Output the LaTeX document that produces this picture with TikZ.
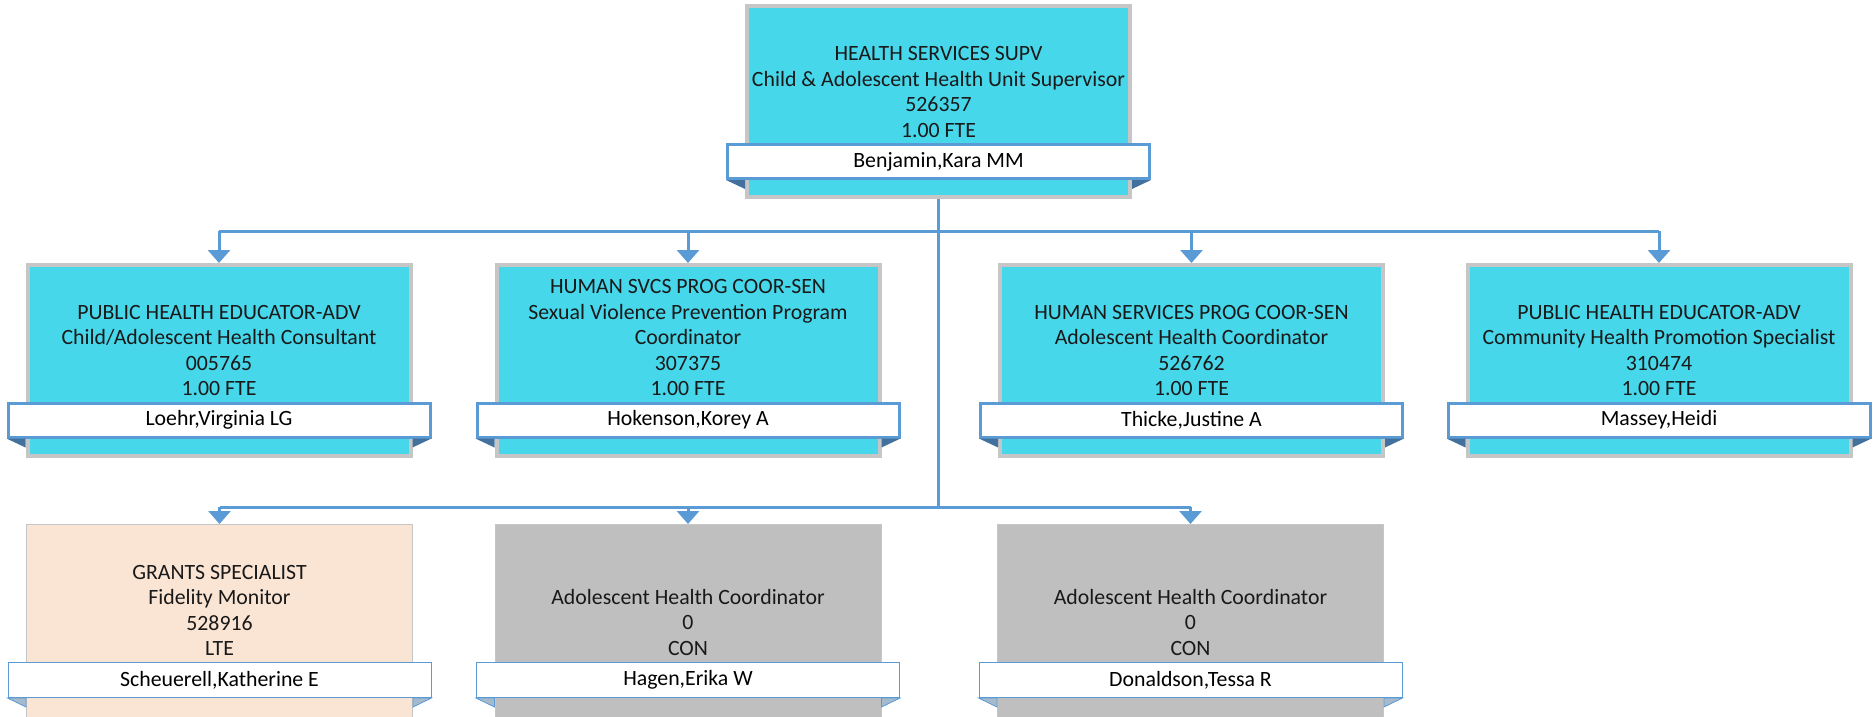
\documentclass[tikz,border=0pt]{standalone}
\usepackage{fontspec}
\setmainfont{Carlito}
\usetikzlibrary{arrows.meta,positioning}
\definecolor{posblue}{HTML}{47D7EB}
\definecolor{ltepeach}{HTML}{FAE5D5}
\definecolor{congray}{HTML}{BFBFBF}
\definecolor{rimgray}{HTML}{C6C6C6}
\definecolor{lineblue}{HTML}{5B9BD5}
\definecolor{folddark}{HTML}{41719C}
\definecolor{foldlite}{HTML}{A5BACD}

\begin{document}
\begin{tikzpicture}[x=.5pt,y=-.5pt,>={Triangle[length=6.5pt,width=11pt]},
  font=\fontsize{10.9}{12.75}\selectfont,
  postbox/.style={rectangle,inner sep=0,fill=posblue,draw=rimgray,line width=2pt,minimum width=191.5pt,minimum height=95.5pt},
  ltebox/.style={rectangle,inner sep=0,fill=ltepeach,draw=rimgray,line width=.5pt,minimum width=193pt,minimum height=97pt},
  conbox/.style={ltebox,fill=congray},
  band/.style={rectangle,inner sep=0,fill=white,draw=lineblue,line width=1.5pt,minimum width=211pt,minimum height=17pt},
  thinband/.style={band,line width=.5pt,minimum width=211.5pt,minimum height=17.5pt},
  ttl/.style={align=center,inner sep=0,text=black!90},
  conn/.style={draw=lineblue,line width=1.5pt}]
\useasboundingbox (0,0) rectangle (1874,717);

% supervisor
\node[postbox] (sup) at (938.5,101.5) {};
\node[band] (supN) at (938.5,161.5) {Benjamin,Kara MM};
\node[ttl,above=2.5pt of supN] {HEALTH SERVICES SUPV\\Child \& Adolescent Health Unit Supervisor\\526357\\1.00 FTE};

% second row
\node[postbox] (p1) at (219,360.5) {};\node[band] (p1N) at (219,420) {Loehr,Virginia LG};
\node[ttl,above=2.5pt of p1N] {PUBLIC HEALTH EDUCATOR-ADV\\Child/Adolescent Health Consultant\\005765\\1.00 FTE};
\node[postbox] (p2) at (688,360.5) {};\node[band] (p2N) at (688,420) {Hokenson,Korey A};
\node[ttl,above=2.5pt of p2N] {HUMAN SVCS PROG COOR-SEN\\Sexual Violence Prevention Program\\Coordinator\\307375\\1.00 FTE};
\node[postbox] (p3) at (1191.5,360.5) {};\node[band] (p3N) at (1191.5,420) {Thicke,Justine A};
\node[ttl,above=2.5pt of p3N] {HUMAN SERVICES PROG COOR-SEN\\Adolescent Health Coordinator\\526762\\1.00 FTE};
\node[postbox] (p4) at (1659,360.5) {};\node[band] (p4N) at (1659,420) {Massey,Heidi};
\node[ttl,above=2.5pt of p4N] {PUBLIC HEALTH EDUCATOR-ADV\\Community Health Promotion Specialist\\310474\\1.00 FTE};

% third row
\node[ltebox] (g1) at (219.5,621.5) {};\node[thinband] (g1N) at (219.5,680) {Scheuerell,Katherine E};
\node[ttl,above=3pt of g1N] {GRANTS SPECIALIST\\Fidelity Monitor\\528916\\LTE};
\node[conbox] (g2) at (688,621.5) {};\node[thinband] (g2N) at (688,680) {Hagen,Erika W};
\node[ttl,above=3pt of g2N] {Adolescent Health Coordinator\\0\\CON};
\node[conbox] (g3) at (1190.5,621.5) {};\node[thinband] (g3N) at (1190.5,680) {Donaldson,Tessa R};
\node[ttl,above=3pt of g3N] {Adolescent Health Coordinator\\0\\CON};

% folded band ends
\foreach \b in {sup,p1,p2,p3,p4}{
  \fill[folddark] (\b N.south west) -- (\b.west|-\b N.south) -- ++(0,9) -- cycle;
  \fill[folddark] (\b N.south east) -- (\b.east|-\b N.south) -- ++(0,9) -- cycle;}
\foreach \b in {g1,g2,g3}{
  \filldraw[fill=foldlite,draw=lineblue,line width=.4pt] (\b N.south west) -- (\b.west|-\b N.south) -- ++(0,9) -- cycle;
  \filldraw[fill=foldlite,draw=lineblue,line width=.4pt] (\b N.south east) -- (\b.east|-\b N.south) -- ++(0,9) -- cycle;}

% connectors
\coordinate (bus1) at (938.5,231);\coordinate (bus2) at (938.5,507);
\draw[conn] (sup.south) -- (bus2);
\draw[conn] (p1.north|-bus1) -- (p4.north|-bus1);
\draw[conn] (g1.north|-bus2) -- (g3.north|-bus2);
\foreach \b in {p1,p2,p3,p4}{\draw[conn,->] (\b.north|-bus1) -- (\b.north);}
\foreach \b in {g1,g2,g3}{\draw[conn,->] (\b.north|-bus2) -- (\b.north);}
\end{tikzpicture}
\end{document}
